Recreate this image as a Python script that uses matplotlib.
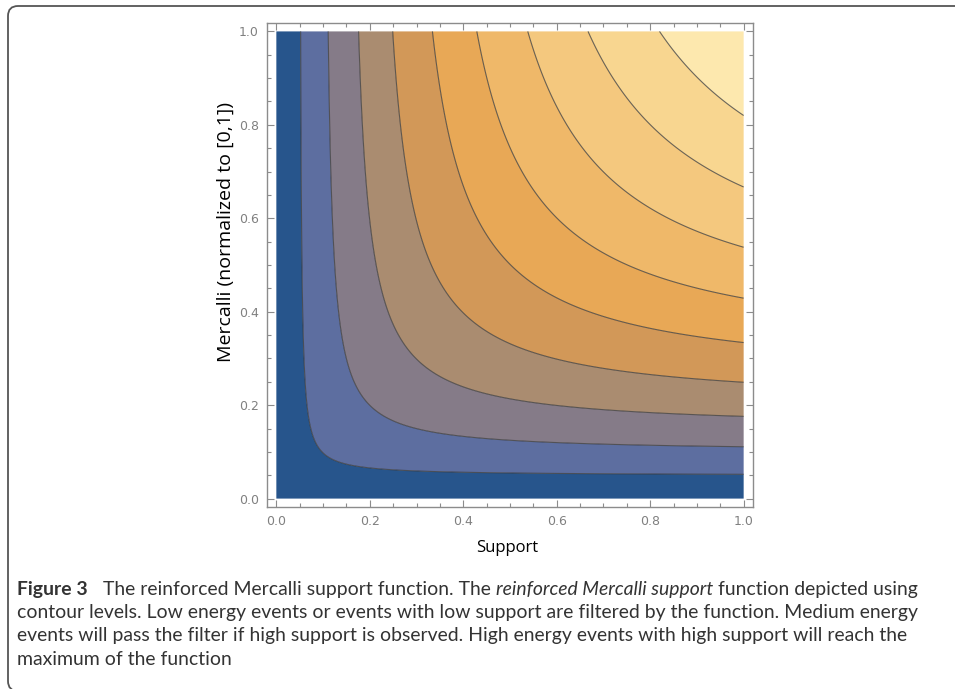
import numpy as np
import matplotlib
matplotlib.use("Agg")
import matplotlib.pyplot as plt
from matplotlib.patches import FancyBboxPatch
from matplotlib.transforms import IdentityTransform
from matplotlib.ticker import MultipleLocator, FixedLocator

# ---- data ----
# value of the (symmetric) support function along the edges where a contour crosses
contour_levels = [0.052, 0.111, 0.176, 0.249, 0.334, 0.429, 0.538, 0.667, 0.820]
band_colors = ['#27558c', '#5d6ea0', '#857b88', '#aa8c70', '#d29858',
               '#e8a856', '#efb869', '#f4c87e', '#f8d690', '#fde8ae']
tick_values = [0.0, 0.2, 0.4, 0.6, 0.8, 1.0]
tick_labels = ['0.0', '0.2', '0.4', '0.6', '0.8', '1.0']
x_label = 'Support'
y_label = 'Mercalli (normalized to [0,1])'
caption_line1 = [('Figure 3', 'bold'),
                 ('The reinforced Mercalli support function. The', 'normal'),
                 ('reinforced Mercalli support', 'italic'),
                 ('function depicted using', 'normal')]
caption_lines = ['contour levels. Low energy events or events with low support are filtered by the function. Medium energy',
                 'events will pass the filter if high support is observed. High energy events with high support will reach the',
                 'maximum of the function']

W, H = 955, 689
fig = plt.figure(figsize=(W / 100, H / 100), dpi=100)
fig.patch.set_facecolor('white')

ax = fig.add_axes([267 / W, 1 - 507 / H, 486 / W, 484 / H])
s = np.linspace(0, 1, 801)
X, Y = np.meshgrid(s, s)
with np.errstate(divide='ignore', invalid='ignore'):
    U = X * Y / (X + Y - X * Y)
U = np.nan_to_num(U, nan=0.0)

fill_levels = [0.0] + contour_levels + [1.0 + 1e-9]
ax.contourf(X, Y, U, levels=fill_levels, colors=band_colors, antialiased=True)
ax.contour(X, Y, U, levels=contour_levels, colors='#3a3a3a', linewidths=0.8, alpha=0.75)

ax.set_xlim(-0.02, 1.02)
ax.set_ylim(-0.018, 1.018)
ax.xaxis.set_major_locator(FixedLocator(tick_values))
ax.yaxis.set_major_locator(FixedLocator(tick_values))
ax.set_xticklabels(tick_labels)
ax.set_yticklabels(tick_labels)
ax.xaxis.set_minor_locator(MultipleLocator(0.05))
ax.yaxis.set_minor_locator(MultipleLocator(0.05))
for sp in ax.spines.values():
    sp.set_color('#8c8c8c')
    sp.set_linewidth(1.0)
ax.tick_params(which='both', direction='in', top=True, right=True,
               color='#8c8c8c', labelcolor='#808080', width=0.8)
ax.tick_params(which='major', length=5, labelsize=9, pad=6)
ax.tick_params(which='minor', length=3)

fig.text(507 / W, 1 - 552 / H, x_label, ha='center', va='baseline',
         fontsize=12, family='Open Sans', color='black')
fig.text(226 / W, 1 - 232 / H, y_label, ha='center', va='center', rotation=90,
         fontsize=14, family='Open Sans', color='black')

# page frame (rounded)
frame = FancyBboxPatch((8, -2), 1000, H - 6 + 2, boxstyle='round,pad=0,rounding_size=10',
                       transform=IdentityTransform(), fill=False, edgecolor='#555555',
                       linewidth=1.3, clip_on=False)
fig.add_artist(frame)

# caption
renderer = fig.canvas.get_renderer()
cap_family = 'Lato'
cap_color = '#333333'

def text_width(txt, size, **kw):
    t = fig.text(0, 0, txt, fontsize=size, family=cap_family, **kw)
    w = t.get_window_extent(renderer).width
    t.remove()
    return w

size = 10.0
size = size * 900 / text_width(caption_lines[0], size)
space_w = text_width('x x', size) - text_width('xx', size)

x0 = 17
baselines = [594.5, 618, 641.5, 665]
x = x0
for i, (txt, style) in enumerate(caption_line1):
    kw = {}
    if style == 'bold':
        kw['fontweight'] = 'bold'
    elif style == 'italic':
        kw['fontstyle'] = 'italic'
    t = fig.text(x / W, 1 - baselines[0] / H, txt, fontsize=size, family=cap_family,
                 color=cap_color, va='baseline', ha='left', **kw)
    w = t.get_window_extent(renderer).width
    x += w + (space_w * 3.0 if i == 0 else space_w)

for line, b in zip(caption_lines, baselines[1:]):
    fig.text(x0 / W, 1 - b / H, line, fontsize=size, family=cap_family,
             color=cap_color, va='baseline', ha='left')

fig.savefig('out.png', dpi=100, facecolor='white')
